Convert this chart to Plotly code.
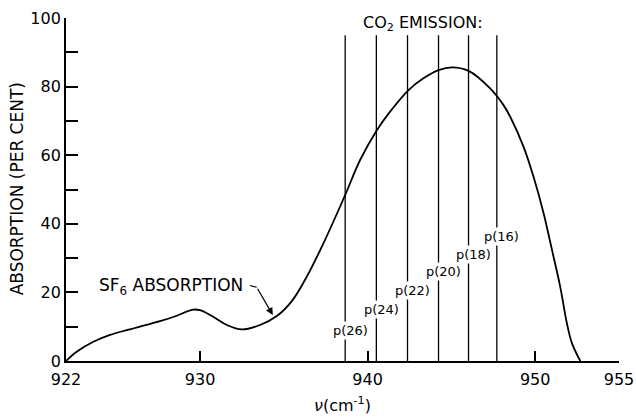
import plotly.graph_objects as go

# SF6 absorption curve (wavenumber cm^-1, absorption %)
sf6_wn = [922.0, 922.64, 923.63, 924.63, 925.62, 926.62, 927.61, 928.61, 929.2, 929.6,
          930.0, 930.6, 931.6, 932.49, 933.58, 934.58, 935.5, 936.37, 937.36,
          938.66, 939.55, 940.55, 941.34, 942.44, 943.33, 944.23, 945.03, 946.02,
          947.31, 948.11, 948.51, 949.3, 949.9, 950.5, 951.0, 951.49, 951.89,
          952.19, 952.69]
sf6_abs = [0.0, 2.7, 5.6, 7.6, 9.0, 10.3, 11.6, 13.2, 14.4, 15.0,
           14.8, 13.4, 10.5, 9.2, 10.5, 13.1, 17.6, 24.6, 34.3,
           48.4, 58.6, 67.3, 72.7, 79.0, 82.4, 84.8, 85.6, 84.6,
           79.5, 74.6, 71.2, 62.5, 53.7, 43.1, 32.4, 21.7, 11.0,
           5.2, 0.0]

# CO2 laser emission lines
co2_wn = [938.66, 940.52, 942.38, 944.23, 946.02, 947.71]
co2_labels = ["p(26)", "p(24)", "p(22)", "p(20)", "p(18)", "p(16)"]
co2_label_y = [9.0, 14.9, 20.5, 26.0, 31.1, 36.2]
co2_top = 95

x_ticks = [922, 930, 940, 950, 955]
y_ticks = [0, 20, 40, 60, 80, 100]

FONT = "DejaVu Sans"

fig = go.Figure()

lx, ly = [], []
for w in co2_wn:
    lx += [w, w, None]
    ly += [0, co2_top, None]
fig.add_trace(go.Scatter(x=lx, y=ly, mode="lines",
                         line=dict(color="black", width=1.3),
                         hoverinfo="skip", showlegend=False))

fig.add_trace(go.Scatter(x=sf6_wn, y=sf6_abs, mode="lines",
                         line=dict(color="black", width=1.8, shape="spline", smoothing=1.0),
                         showlegend=False))

for w, lab, yy in zip(co2_wn, co2_labels, co2_label_y):
    fig.add_annotation(x=w, y=yy, text=lab, showarrow=False, xshift=5,
                       bgcolor="white", borderpad=1,
                       font=dict(family=FONT, size=13, color="black"))

fig.add_annotation(x=943.28, y=98.4, yanchor="middle",
                   text="CO<sub>2</sub> EMISSION:", showarrow=False,
                   font=dict(family=FONT, size=16, color="black"))

fig.add_annotation(x=928.27, y=21.6, yanchor="middle",
                   text="SF<sub>6</sub> ABSORPTION", showarrow=False,
                   font=dict(family=FONT, size=17, color="black"))

# leader + arrow to the curve
fig.add_shape(type="line", x0=932.97, y0=22.0, x1=933.38, y1=21.5,
              line=dict(color="black", width=1.2))
fig.add_annotation(x=934.34, y=13.4, ax=933.38, ay=21.5, axref="x", ayref="y",
                   text="", showarrow=True, arrowhead=2, arrowsize=1.2,
                   arrowwidth=1.2, arrowcolor="black")

# axis titles
fig.add_annotation(xref="paper", yref="paper", x=0.5, y=-0.128,
                   xanchor="center", yanchor="middle",
                   text="<i>ν</i>(cm<sup>-1</sup>)", showarrow=False,
                   font=dict(family=FONT, size=16, color="black"))
fig.add_annotation(xref="paper", yref="paper", x=-0.087, y=0.503,
                   xanchor="center", yanchor="middle",
                   text="ABSORPTION (PER CENT)", textangle=-90, showarrow=False,
                   font=dict(family=FONT, size=17, color="black"))

fig.update_layout(
    width=636, height=418, autosize=False,
    margin=dict(l=66, r=17, t=18, b=57, autoexpand=False),
    paper_bgcolor="white", plot_bgcolor="white",
    font=dict(family=FONT, color="black"),
    xaxis=dict(range=[922, 955], tickvals=x_ticks, ticktext=[str(v) for v in x_ticks],
               ticks="inside", ticklen=10, tickwidth=1.5, tickcolor="black",
               showline=True, linecolor="black", linewidth=1.8, automargin=False,
               showgrid=False, zeroline=False, ticklabelstandoff=3,
               tickfont=dict(family=FONT, size=16, color="black")),
    yaxis=dict(range=[0, 100], tickvals=y_ticks,
               ticks="inside", ticklen=12, tickwidth=1.5, tickcolor="black",
               minor=dict(dtick=10, ticks="inside", ticklen=12, tickwidth=1.5, tickcolor="black"),
               showline=True, linecolor="black", linewidth=1.8, automargin=False,
               showgrid=False, zeroline=False,
               tickfont=dict(family=FONT, size=16, color="black")),
)

fig.write_html("out.html", config={"displayModeBar": False},
               post_script="document.body.style.margin='0';document.body.style.overflow='hidden';")
